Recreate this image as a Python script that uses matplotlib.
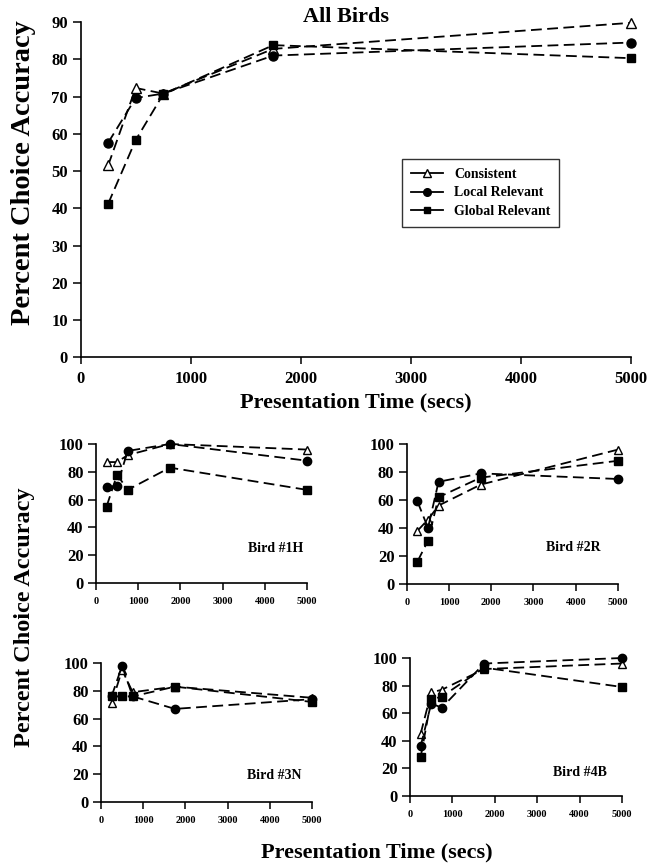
import matplotlib
matplotlib.use('Agg')
import matplotlib.pyplot as plt
from matplotlib.lines import Line2D

# Presentation times (secs) used for every bird
times = [250, 500, 750, 1750, 5000]

# All birds, percent choice accuracy
all_consistent = [51.5, 72.3, 70.8, 82.8, 89.8]
all_local = [57.6, 69.6, 70.8, 81.0, 84.5]
all_global = [41.2, 58.3, 70.6, 83.8, 80.3]

# Individual birds
bird_names = ['Bird #1H', 'Bird #2R', 'Bird #3N', 'Bird #4B']
bird_consistent = [
    [87, 87, 92, 100, 96],
    [38, 46, 56, 71, 96],
    [71, 95, 79, 83, 75],
    [45, 75, 77, 92, 96],
]
bird_local = [
    [69, 70, 95, 100, 88],
    [59, 40, 73, 79, 75],
    [76, 98, 76, 67, 74],
    [36, 67, 64, 96, 100],
]
bird_global = [
    [55, 78, 67, 83, 67],
    [16, 31, 62, 76, 88],
    [76, 76, 76, 83, 72],
    [28, 70, 72, 93, 79],
]

series_labels = ['Consistent', 'Local Relevant', 'Global Relevant']

plt.rcParams['font.family'] = 'Liberation Serif'
plt.rcParams['font.weight'] = 'bold'

DASH = (6, 3)


def draw_series(ax, cons, loc, glob, ms):
    # dashed lines, open triangles / filled circles / filled squares
    ax.plot(times, cons, color='black', lw=1.3, dashes=DASH, marker='^',
            mfc='white', mec='black', ms=ms, mew=1.0, clip_on=False)
    ax.plot(times, loc, color='black', lw=1.3, dashes=DASH, marker='o',
            mfc='black', mec='black', ms=ms, clip_on=False)
    ax.plot(times, glob, color='black', lw=1.3, dashes=DASH, marker='s',
            mfc='black', mec='black', ms=ms - 0.5, clip_on=False)


def style_axes(ax, ymax, ystep, xsize, ysize):
    for side in ['top', 'right']:
        ax.spines[side].set_visible(False)
    for side in ['left', 'bottom']:
        ax.spines[side].set_linewidth(1.2)
    ax.set_xlim(0, 5000)
    ax.set_ylim(0, ymax)
    ax.set_xticks(range(0, 5001, 1000))
    ax.set_yticks(range(0, ymax + 1, ystep))
    ax.tick_params(axis='x', direction='out', length=5, width=1.1, labelsize=xsize, pad=5)
    ax.tick_params(axis='y', direction='out', length=6, width=1.1, labelsize=ysize, pad=3)
    for lab in ax.get_xticklabels() + ax.get_yticklabels():
        lab.set_fontweight('bold')
    ax.patch.set_visible(False)


fig = plt.figure(figsize=(6.5, 8.65), dpi=100)

# Main panel: all birds
ax = fig.add_axes([0.124, 0.587, 0.847, 0.3875])
style_axes(ax, 90, 10, 12, 12)
draw_series(ax, all_consistent, all_local, all_global, 6.5)
ax.set_xlabel('Presentation Time (secs)', fontsize=16, fontweight='bold', labelpad=4)
fig.text(0.036, 0.800, 'Percent Choice Accuracy', ha='center', va='center',
         rotation=90, fontsize=20.5, fontweight='bold')
fig.text(0.532, 0.980, 'All Birds', ha='center', va='center', fontsize=16, fontweight='bold')

# Legend with solid sample lines
handles = [
    Line2D([], [], color='black', lw=1.3, marker='^', mfc='white', mec='black', ms=5.5),
    Line2D([], [], color='black', lw=1.3, marker='o', mfc='black', ms=5.5),
    Line2D([], [], color='black', lw=1.3, marker='s', mfc='black', ms=5),
]
leg = ax.legend(handles, series_labels, loc='upper left', bbox_to_anchor=(0.5835, 0.592),
                fontsize=10, frameon=True, fancybox=False, handlelength=2.3,
                borderpad=0.65, labelspacing=0.4, handletextpad=0.8, borderaxespad=0)
leg.get_frame().set_edgecolor('black')
leg.get_frame().set_linewidth(1.0)
for t in leg.get_texts():
    t.set_fontweight('bold')

# Small panels, one per bird
positions = [
    [0.1477, 0.326, 0.3246, 0.1607],
    [0.626, 0.3249, 0.3246, 0.1618],
    [0.1554, 0.0728, 0.3246, 0.1607],
    [0.6308, 0.0798, 0.326, 0.1595],
]
label_pos = [(0.85, 0.25), (0.79, 0.26), (0.82, 0.19), (0.80, 0.17)]

for i in range(4):
    bx = fig.add_axes(positions[i])
    style_axes(bx, 100, 20, 7.5, 12)
    draw_series(bx, bird_consistent[i], bird_local[i], bird_global[i], 6)
    bx.text(label_pos[i][0], label_pos[i][1], bird_names[i], transform=bx.transAxes,
            ha='center', va='center', fontsize=10, fontweight='bold')

# Shared labels for the small panels
fig.text(0.58, 0.014, 'Presentation Time (secs)', ha='center', va='center',
         fontsize=16, fontweight='bold')
fig.text(0.038, 0.286, 'Percent Choice Accuracy', ha='center', va='center',
         rotation=90, fontsize=17.5, fontweight='bold')

fig.savefig('out.png', dpi=100)
